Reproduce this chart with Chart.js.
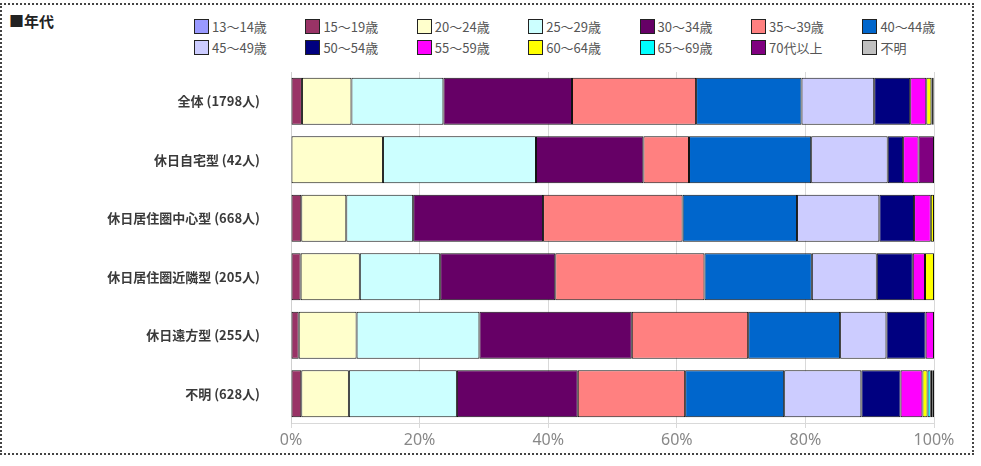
<!DOCTYPE html>
<html lang="ja">
<head>
<meta charset="utf-8">
<script src="https://cdn.jsdelivr.net/npm/chart.js@4"></script>
<style>
  html, body { margin: 0; padding: 0; background: #fff; }
  body { width: 981px; height: 466px; position: relative; overflow: hidden; font-family: "Noto Sans CJK JP", "Noto Sans", sans-serif; }
  #frame { position: absolute; left: 0; top: 3px; width: 970px; height: 448px; border: 2px dotted #444; }
  #title { position: absolute; left: 9px; top: 10px; font-size: 15px; font-weight: bold; color: #222; }
  #legend { position: absolute; left: 194px; top: 17px; width: 790px; }
  .item { position: absolute; display: flex; align-items: center; font-size: 13px; color: #555; white-space: nowrap; }
  .box { width: 15px; height: 15px; border: 1px solid #222; margin-right: 3px; box-sizing: border-box; }
  #wrap { position: absolute; left: 0; top: 0; width: 981px; height: 466px; }
</style>
</head>
<body>
<div id="frame"></div>
<div id="title">■年代</div>
<div id="legend"></div>
<div id="wrap"><canvas id="chart"></canvas></div>
<script>
const categories = ["全体 (1798人)", "休日自宅型 (42人)", "休日居住圏中心型 (668人)", "休日居住圏近隣型 (205人)", "休日遠方型 (255人)", "不明 (628人)"];
const seriesNames = ["13～14歳", "15～19歳", "20～24歳", "25～29歳", "30～34歳", "35～39歳", "40～44歳",
                     "45～49歳", "50～54歳", "55～59歳", "60～64歳", "65～69歳", "70代以上", "不明"];

// percent per category, same order as categories
const age13_14 = [0, 0, 0, 0, 0, 0];
const age15_19 = [1.7, 0, 1.6, 1.5, 1.2, 1.6];
const age20_24 = [7.7, 14.3, 7.0, 9.2, 9.0, 7.4];
const age25_29 = [14.3, 23.8, 10.4, 12.5, 19.1, 16.8];
const age30_34 = [20.0, 16.7, 20.2, 17.9, 23.7, 18.8];
const age35_39 = [19.3, 7.1, 21.7, 23.2, 18.1, 16.7];
const age40_44 = [16.4, 19.0, 17.8, 16.7, 14.3, 15.4];
const age45_49 = [11.3, 11.9, 12.8, 10.1, 7.2, 12.0];
const age50_54 = [5.6, 2.4, 5.4, 5.6, 6.1, 6.1];
const age55_59 = [2.5, 2.4, 2.6, 1.9, 1.3, 3.4];
const age60_64 = [0.8, 0, 0.5, 1.4, 0, 0.8];
const age65_69 = [0.1, 0, 0, 0, 0, 0.5];
const age70up = [0.2, 2.4, 0, 0, 0, 0.3];
const ageUnknown = [0.1, 0, 0, 0, 0, 0.2];

const xTicks = [0, 20, 40, 60, 80, 100];

const colors = ["#9999FF", "#993366", "#FFFFCC", "#CCFFFF", "#660066", "#FF8080", "#0066CC",
                "#CCCCFF", "#000080", "#FF00FF", "#FFFF00", "#00FFFF", "#800080", "#C0C0C0"];

const seriesValues = [age13_14, age15_19, age20_24, age25_29, age30_34, age35_39, age40_44,
                      age45_49, age50_54, age55_59, age60_64, age65_69, age70up, ageUnknown];

// html legend, 7 columns x 2 rows
const legend = document.getElementById("legend");
seriesNames.forEach((name, i) => {
    const el = document.createElement("div");
    el.className = "item";
    el.style.left = (i % 7) * 111.4 + "px";
    el.style.top = Math.floor(i / 7) * 21 + "px";
    el.innerHTML = '<span class="box" style="background:' + colors[i] + '"></span>' + name;
    legend.appendChild(el);
});

const datasets = seriesNames.map((name, i) => ({
    label: name,
    data: seriesValues[i],
    backgroundColor: colors[i],
    borderColor: "#111",
    borderWidth: 1,
    borderSkipped: false,
    barPercentage: 0.8,
    categoryPercentage: 1
}));

new Chart(document.getElementById("chart"), {
    type: "bar",
    data: { labels: categories, datasets },
    options: {
        indexAxis: "y",
        responsive: true,
        maintainAspectRatio: false,
        animation: false,
        layout: { padding: { top: 72, right: 47, bottom: 0, left: 0 } },
        plugins: { legend: { display: false }, tooltip: { enabled: false } },
        scales: {
            x: {
                stacked: true,
                min: 0,
                max: 100,
                afterBuildTicks: (scale) => { scale.ticks = xTicks.map((v) => ({ value: v })); },
                afterFit: (scale) => { scale.height = 43; },
                grid: { color: "#d9d9d9", tickLength: 5 },
                border: { color: "#d9d9d9" },
                ticks: {
                    padding: 3,
                    color: "#888",
                    font: { family: "'Noto Sans', sans-serif", size: 16 },
                    callback: (v) => v + "%"
                }
            },
            y: {
                stacked: true,
                afterFit: (scale) => { scale.width = 291; },
                grid: { display: false },
                border: { color: "#d0d0d0" },
                ticks: {
                    padding: 23,
                    color: "#3a3a3a",
                    font: { family: "'Noto Sans CJK JP', sans-serif", size: 13, weight: "bold" }
                }
            }
        }
    }
});
</script>
</body>
</html>
